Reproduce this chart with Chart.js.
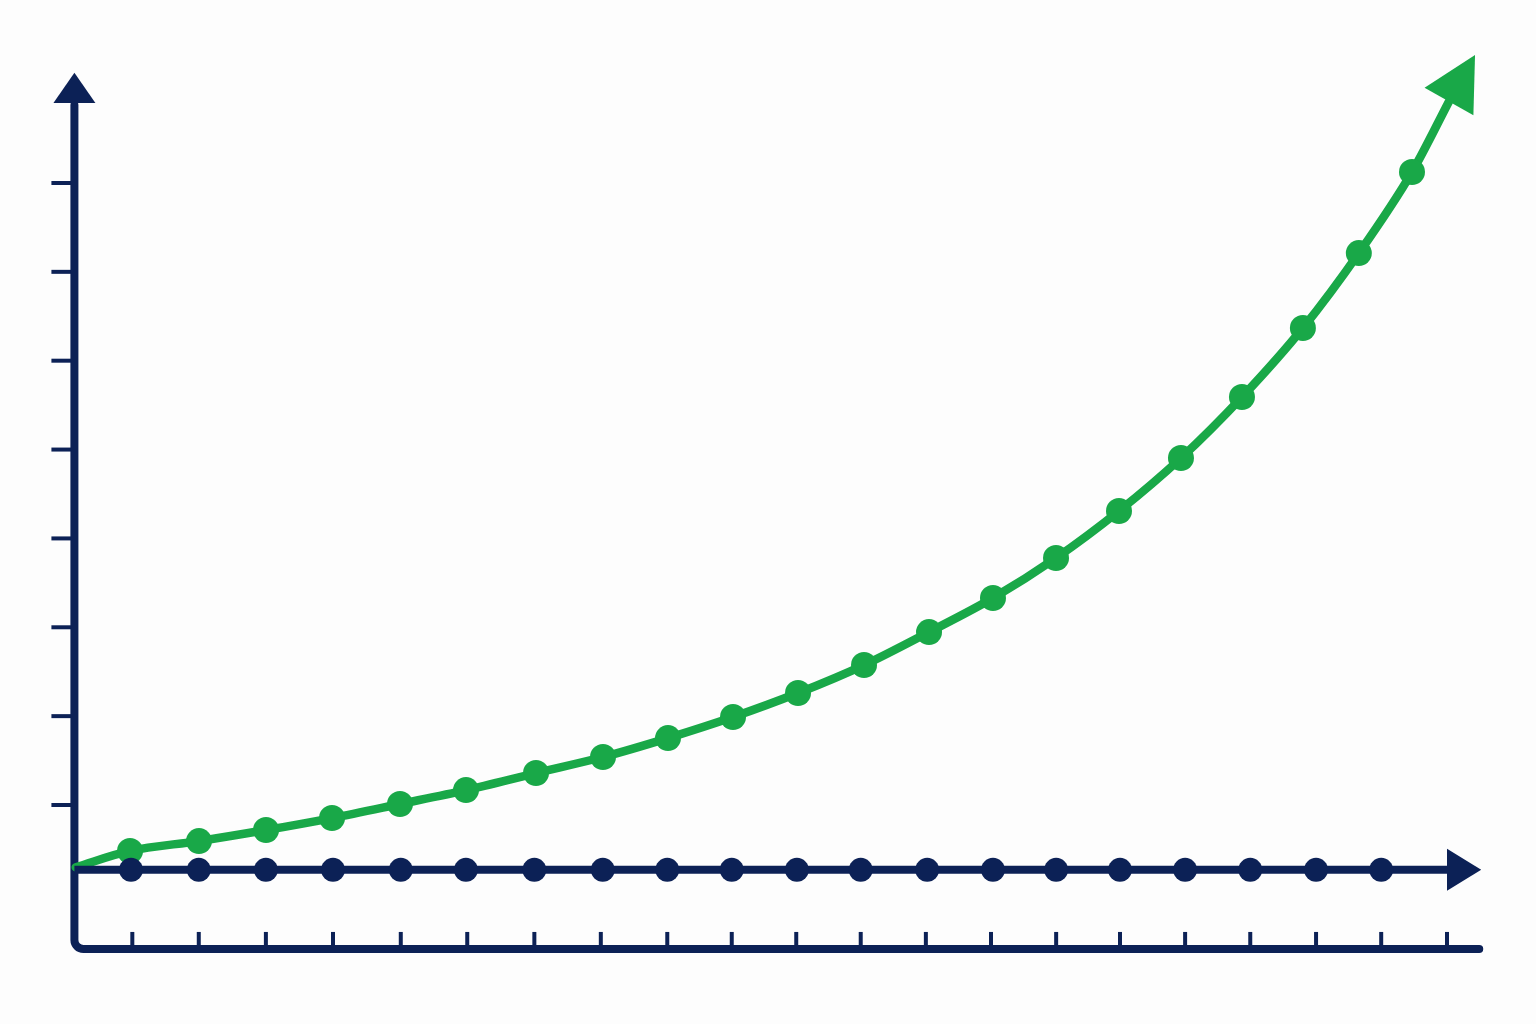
<!DOCTYPE html>
<html>
<head>
<meta charset="utf-8">
<script src="https://cdn.jsdelivr.net/npm/chart.js@4"></script>
<style>
  html, body { margin: 0; padding: 0; background: #fdfdfd; }
  #wrap { width: 1536px; height: 1024px; position: relative; }
</style>
</head>
<body>
<div id="wrap"><canvas id="c"></canvas></div>
<script>
// ---- data (x in step units, y in tick units) ----
const baselineX = [0.14, 1.0, 2.03, 3.05, 4.07, 5.10, 6.09, 7.13, 8.17, 9.15, 10.13, 11.12, 12.09,
                   13.10, 14.10, 15.06, 16.03, 17.02, 18.01, 19.01, 20.0, 21.0];
const baselineValue = 0.27;

const growthX = [0.16, 0.985, 2.033, 3.052, 4.055, 5.088, 6.091, 7.155, 8.173, 9.161, 10.149,
                 11.137, 12.14, 13.128, 14.1, 15.058, 16.015, 16.957, 17.884, 18.81, 19.66, 20.468, 21.03];
const growthY = [0.30, 0.483, 0.594, 0.718, 0.853, 1.011, 1.168, 1.360, 1.540, 1.753, 1.990,
                 2.260, 2.575, 2.946, 3.329, 3.779, 4.308, 4.905, 5.591, 6.368, 7.211, 8.123, 8.917];
const growthArrowTip = { x: 21.426, y: 9.44 };

const xTicks = [1.02, 2.03, 3.05, 4.07, 5.10, 6.11, 7.13, 8.14, 9.15, 10.13, 11.11, 12.09, 13.08,
                14.07, 15.06, 16.03, 17.02, 18.01, 19.01, 20.0, 21.0];
const yTicks = [1, 2, 3, 4, 5, 6, 7, 8];

const axisOriginX = 0.14;     // vertical axis position
const axisFloorY = -0.62;     // bottom L-line position
const axisRightX = 21.49;     // end of bottom L-line
const yArrowBase = 8.90, yArrowTip = 9.24;
const xArrowBase = 21.0, xArrowTip = 21.52;

const NAVY = '#0c2156';
const GREEN = '#19a848';

const navyPoints = baselineX.map(x => ({ x, y: baselineValue }));
const navyRadius = baselineX.map((x, i) => (i === 0 || i === baselineX.length - 1) ? 0 : 12);
const greenPoints = growthX.map((x, i) => ({ x, y: growthY[i] }));
const greenRadius = growthX.map((x, i) => (i === 0 || i === growthX.length - 1) ? 0 : 13);

const bgPlugin = {
  id: 'bg',
  beforeDraw(chart) {
    const ctx = chart.ctx;
    ctx.save();
    ctx.fillStyle = '#fdfdfd';
    ctx.fillRect(0, 0, chart.width, chart.height);
    ctx.restore();
  }
};

function tri(ctx, bx, by, tx, ty, half, color) {
  const dx = tx - bx, dy = ty - by;
  const len = Math.hypot(dx, dy);
  const nx = -dy / len, ny = dx / len;
  ctx.beginPath();
  ctx.moveTo(tx, ty);
  ctx.lineTo(bx + nx * half, by + ny * half);
  ctx.lineTo(bx - nx * half, by - ny * half);
  ctx.closePath();
  ctx.fillStyle = color;
  ctx.fill();
}

const axesPlugin = {
  id: 'axesDeco',
  beforeDatasetsDraw(chart) {
    const ctx = chart.ctx;
    const xs = chart.scales.x, ys = chart.scales.y;
    const ax = xs.getPixelForValue(axisOriginX);
    const fy = ys.getPixelForValue(axisFloorY);
    const ab = ys.getPixelForValue(yArrowBase);
    const rx = xs.getPixelForValue(axisRightX);
    ctx.save();
    ctx.strokeStyle = NAVY;
    ctx.lineWidth = 4;
    ctx.lineCap = 'butt';
    yTicks.forEach(v => {
      const py = ys.getPixelForValue(v);
      ctx.beginPath();
      ctx.moveTo(ax - 23, py);
      ctx.lineTo(ax, py);
      ctx.stroke();
    });
    xTicks.forEach(v => {
      const px = xs.getPixelForValue(v);
      ctx.beginPath();
      ctx.moveTo(px, fy - 17);
      ctx.lineTo(px, fy);
      ctx.stroke();
    });
    ctx.lineWidth = 8;
    ctx.lineCap = 'round';
    ctx.lineJoin = 'round';
    ctx.beginPath();
    ctx.moveTo(ax, ab + 2);
    ctx.arcTo(ax, fy, ax + 20, fy, 9);
    ctx.lineTo(rx, fy);
    ctx.stroke();
    tri(ctx, ax, ab, ax, ys.getPixelForValue(yArrowTip), 21, NAVY);
    ctx.restore();
  },
  afterDatasetsDraw(chart) {
    const ctx = chart.ctx;
    const xs = chart.scales.x, ys = chart.scales.y;
    ctx.save();
    const by = ys.getPixelForValue(baselineValue);
    tri(ctx, xs.getPixelForValue(xArrowBase), by, xs.getPixelForValue(xArrowTip), by, 21, NAVY);
    const last = growthX.length - 1;
    tri(ctx, xs.getPixelForValue(growthX[last]), ys.getPixelForValue(growthY[last]),
        xs.getPixelForValue(growthArrowTip.x), ys.getPixelForValue(growthArrowTip.y), 28, GREEN);
    ctx.restore();
  }
};

new Chart(document.getElementById('c'), {
  type: 'line',
  data: {
    datasets: [
      {
        label: 'baseline',
        data: navyPoints,
        borderColor: NAVY,
        backgroundColor: NAVY,
        borderWidth: 8,
        pointRadius: navyRadius,
        pointBackgroundColor: NAVY,
        pointBorderWidth: 0,
        tension: 0,
        clip: false
      },
      {
        label: 'growth',
        data: greenPoints,
        borderColor: GREEN,
        backgroundColor: GREEN,
        borderWidth: 8.5,
        pointRadius: greenRadius,
        pointBackgroundColor: GREEN,
        pointBorderWidth: 0,
        cubicInterpolationMode: 'monotone',
        borderCapStyle: 'round',
        clip: false
      }
    ]
  },
  options: {
    responsive: true,
    maintainAspectRatio: false,
    animation: false,
    events: [],
    layout: { padding: { left: 65.2, right: 23.2, top: 31.92, bottom: 67.94 } },
    plugins: { legend: { display: false }, tooltip: { enabled: false } },
    scales: {
      x: { type: 'linear', display: false, min: 0, max: 22 },
      y: { type: 'linear', display: false, min: -0.7, max: 9.7 }
    }
  },
  plugins: [bgPlugin, axesPlugin]
});
</script>
</body>
</html>
